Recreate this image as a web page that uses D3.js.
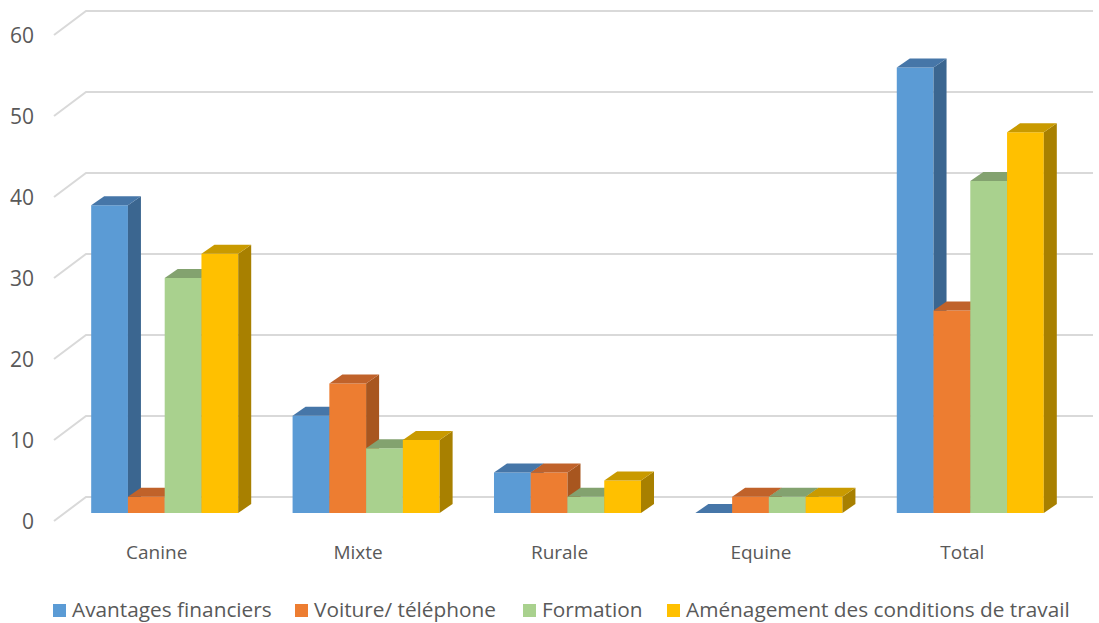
<!DOCTYPE html>
<html>
<head>
<meta charset="utf-8">
<script src="https://cdn.jsdelivr.net/npm/d3@7"></script>
<style>
  html, body { margin: 0; padding: 0; background: #ffffff; }
  svg { display: block; }
  text { font-family: "Open Sans", "Noto Sans", sans-serif; fill: #595959; }
</style>
</head>
<body>
<svg id="chart" width="1099" height="623"></svg>
<script>
// Categories and series
const categories = ["Canine", "Mixte", "Rurale", "Equine", "Total"];
const seriesNames = ["Avantages financiers", "Voiture/ téléphone", "Formation", "Aménagement des conditions de travail"];
const avantages = [38, 12, 5, 0, 55];
const voiture = [2, 16, 5, 2, 25];
const formation = [29, 8, 2, 2, 41];
const amenagement = [32, 9, 4, 2, 47];
const yTicks = [0, 10, 20, 30, 40, 50, 60];

const seriesValues = [avantages, voiture, formation, amenagement];
const frontColors = ["#5B9BD5", "#ED7D31", "#A9D18E", "#FFC000"];
const sideColors  = ["#3B6690", "#A8561F", "#77946A", "#A88000"];
const topColors   = ["#4676A8", "#C0622A", "#83A26F", "#C99A00"];

const svg = d3.select("#chart");

// Front plane of the plot
const x = d3.scaleBand().domain(categories).range([54, 1061]).paddingInner(0.27).paddingOuter(0.135);
const xs = d3.scaleBand().domain(d3.range(seriesNames.length)).range([0, x.bandwidth()]);
const y = d3.scaleLinear().domain([0, 60]).range([521, 35]);

// Depth of the whole floor, and of the bars
const depth = { dx: 32, dy: -24 };
const barShift = { dx: 10, dy: -8 };
const barDepth = { dx: 13, dy: -9 };

// Gridlines: slanted floor edge plus the back-wall line
const grid = svg.append("g");
yTicks.forEach(t => {
  const yf = y(t);
  grid.append("polyline")
    .attr("points", [[54, yf], [54 + depth.dx, yf + depth.dy], [1061 + depth.dx, yf + depth.dy]].map(p => p.join(",")).join(" "))
    .attr("fill", "none")
    .attr("stroke", "#D9D9D9")
    .attr("stroke-width", 2);
});

// Y tick labels
svg.append("g").selectAll("text").data(yTicks).join("text")
  .attr("x", 34)
  .attr("y", d => y(d))
  .attr("text-anchor", "end")
  .attr("dominant-baseline", "central")
  .style("font-size", "21px")
  .text(d => d);

// Bars drawn left to right so each front face covers the previous side face
const bars = svg.append("g");
categories.forEach((c, ci) => {
  seriesNames.forEach((s, si) => {
    const v = seriesValues[si][ci];
    const x0 = x(c) + xs(si) + barShift.dx;
    const x1 = x0 + xs.bandwidth();
    const yb = y(0) + barShift.dy;
    const yt = y(v) + barShift.dy;
    const pts = arr => arr.map(p => p.join(",")).join(" ");
    if (v > 0) {
      bars.append("polygon")
        .attr("points", pts([[x0, yb], [x1, yb], [x1, yt], [x0, yt]]))
        .attr("fill", frontColors[si]);
      bars.append("polygon")
        .attr("points", pts([[x1, yb], [x1 + barDepth.dx, yb + barDepth.dy], [x1 + barDepth.dx, yt + barDepth.dy], [x1, yt]]))
        .attr("fill", sideColors[si]);
    }
    bars.append("polygon")
      .attr("points", pts([[x0, yt], [x1, yt], [x1 + barDepth.dx, yt + barDepth.dy], [x0 + barDepth.dx, yt + barDepth.dy]]))
      .attr("fill", topColors[si]);
  });
});

// Category labels
svg.append("g").selectAll("text").data(categories).join("text")
  .attr("x", d => x(d) + x.bandwidth() / 2 + 2)
  .attr("y", 552)
  .attr("text-anchor", "middle")
  .attr("dominant-baseline", "central")
  .style("font-size", "19px")
  .text(d => d);

// Legend
const legendX = [53, 295, 523, 667];
const legend = svg.append("g");
seriesNames.forEach((s, i) => {
  legend.append("rect")
    .attr("x", legendX[i]).attr("y", 604)
    .attr("width", 13).attr("height", 13)
    .attr("fill", frontColors[i]);
  legend.append("text")
    .attr("x", legendX[i] + 19).attr("y", 609)
    .attr("dominant-baseline", "central")
    .style("font-size", "20.8px")
    .text(s);
});
</script>
</body>
</html>
